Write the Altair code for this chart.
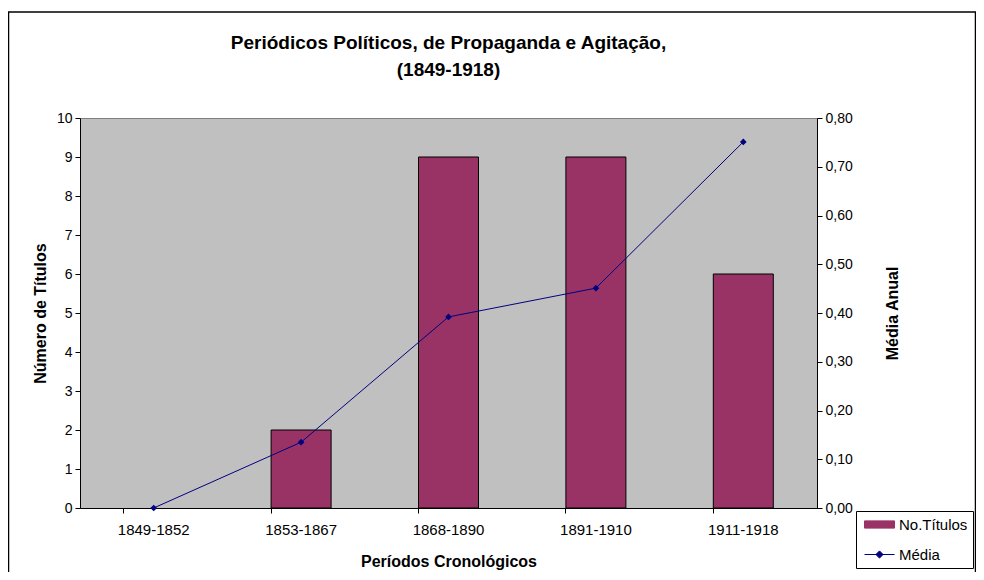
import altair as alt
import pandas as pd

# ---- data ----
periodos = ["1849-1852", "1853-1867", "1868-1890", "1891-1910", "1911-1918"]
titulos = [0, 2, 9, 9, 6]
media = [0.0, 0.135, 0.392, 0.451, 0.751]
series = ["No.Títulos", "Média"]
cores = ["#993366", "#000080"]
y_left_ticks = [0, 1, 2, 3, 4, 5, 6, 7, 8, 9, 10]
y_right_ticks = [0.0, 0.1, 0.2, 0.3, 0.4, 0.5, 0.6, 0.7, 0.8]

FONT = "Liberation Sans, Arial, sans-serif"

df = pd.DataFrame({"periodo": periodos, "titulos": titulos, "media": media})

color_scale = alt.Scale(domain=series, range=cores)

legend = alt.Legend(
    title=None,
    orient="none",
    legendX=776,
    legendY=393,
    direction="vertical",
    padding=5,
    strokeColor="black",
    fillColor="white",
    cornerRadius=0,
    labelFont=FONT,
    labelFontSize=15,
    labelColor="black",
    labelOffset=21,
    symbolSize=256,
    rowPadding=13,
    symbolType=alt.ExprRef(
        "datum.value === 'Média' ? 'M-0.625,0H3.125M0.8,0L1.25,-0.45L1.7,0L1.25,0.45Z' : 'M-0.625,-0.45H3.125V0.45H-0.625Z'"
    ),
    symbolFillColor=alt.ExprRef("datum.value === 'Média' ? '#000080' : '#993366'"),
    symbolStrokeColor=alt.ExprRef("datum.value === 'Média' ? '#000080' : 'black'"),
    symbolStrokeWidth=1,
    symbolOpacity=1,
)

x_scale = alt.Scale(paddingInner=0.593, paddingOuter=0.2965)

base = alt.Chart(df)

bars = (
    base.transform_calculate(serie="'No.Títulos'")
    .mark_bar(strokeWidth=1)
    .encode(
        x=alt.X(
            "periodo:N",
            sort=periodos,
            scale=x_scale,
            axis=alt.Axis(
                orient="bottom",
                labelAngle=0,
                ticks=False,
                labelPadding=14,
                labelFontSize=15,
                labelFont=FONT,
                labelColor="black",
                domainColor="black",
                title="Períodos Cronológicos",
                titleFont=FONT,
                titleFontSize=16,
                titleFontWeight="bold",
                titleColor="black",
                titleY=53,
                titleBaseline="middle",
            ),
        ),
        y=alt.Y(
            "titulos:Q",
            scale=alt.Scale(domain=[0, 10], nice=False),
            axis=alt.Axis(
                values=y_left_ticks,
                format="d",
                grid=False,
                tickSize=5,
                tickColor="black",
                domainColor="black",
                labelPadding=3,
                labelFontSize=14,
                labelFont=FONT,
                labelColor="black",
                title="Número de Títulos",
                titleFont=FONT,
                titleFontSize=16,
                titleFontWeight="bold",
                titleColor="black",
                titleX=-40,
                titleY=195,
                titleAngle=270,
                titleAlign="center",
                titleBaseline="middle",
            ),
        ),
        color=alt.Color("serie:N", scale=color_scale, legend=legend),
        stroke=alt.condition("datum.titulos > 0", alt.value("black"), alt.value("transparent")),
    )
)

line = (
    base.transform_calculate(serie="'Média'")
    .mark_line(strokeWidth=1, point=alt.OverlayMarkDef(shape="diamond", size=45, filled=True))
    .encode(
        x=alt.X(
            "periodo:N",
            sort=periodos,
            scale=x_scale,
            axis=alt.Axis(
                orient="bottom",
                bandPosition=0,
                labels=False,
                ticks=True,
                tickSize=5,
                tickColor="black",
                domain=False,
                title=None,
            ),
        ),
        y=alt.Y(
            "media:Q",
            scale=alt.Scale(domain=[0, 0.8], nice=False),
            axis=alt.Axis(
                orient="right",
                values=y_right_ticks,
                labelExpr="replace(format(datum.value, '.2f'), '.', ',')",
                grid=False,
                tickSize=5,
                tickColor="black",
                domainColor="black",
                labelPadding=3,
                labelFontSize=14,
                labelFont=FONT,
                labelColor="black",
                title="Média Anual",
                titleFont=FONT,
                titleFontSize=16,
                titleFontWeight="bold",
                titleColor="black",
                titleX=75,
                titleY=195,
                titleAngle=270,
                titleAlign="center",
                titleBaseline="middle",
            ),
        ),
        color=alt.Color("serie:N", scale=color_scale, legend=legend),
    )
)

frame = (
    alt.Chart(alt.Data(values=[{"f": 1}]))
    .mark_rect(filled=False, stroke="black", strokeWidth=1.5)
    .encode(
        x=alt.value(-71.5),
        x2=alt.value(895.5),
        y=alt.value(-106),
        y2=alt.value(470),
    )
)

chart = (
    alt.layer(frame, bars, line)
    .resolve_scale(y="independent")
    .resolve_axis(x="independent")
    .properties(
        width=737,
        height=390,
        autosize=alt.AutoSizeParams(type="none"),
        padding={"left": 72, "top": 110, "right": 159, "bottom": 64},
        title=alt.TitleParams(
            text=["Periódicos Políticos, de Propaganda e Agitação,", "(1849-1918)"],
            font=FONT,
            fontSize=19,
            fontWeight="bold",
            color="black",
            anchor="middle",
            lineHeight=27,
            offset=42,
            dy=111,
        ),
        background="white",
    )
    .configure_view(fill="#C0C0C0", stroke="#808080", strokeWidth=1)
)

chart.save("out.html", embed_options={"renderer": "svg", "actions": False})
